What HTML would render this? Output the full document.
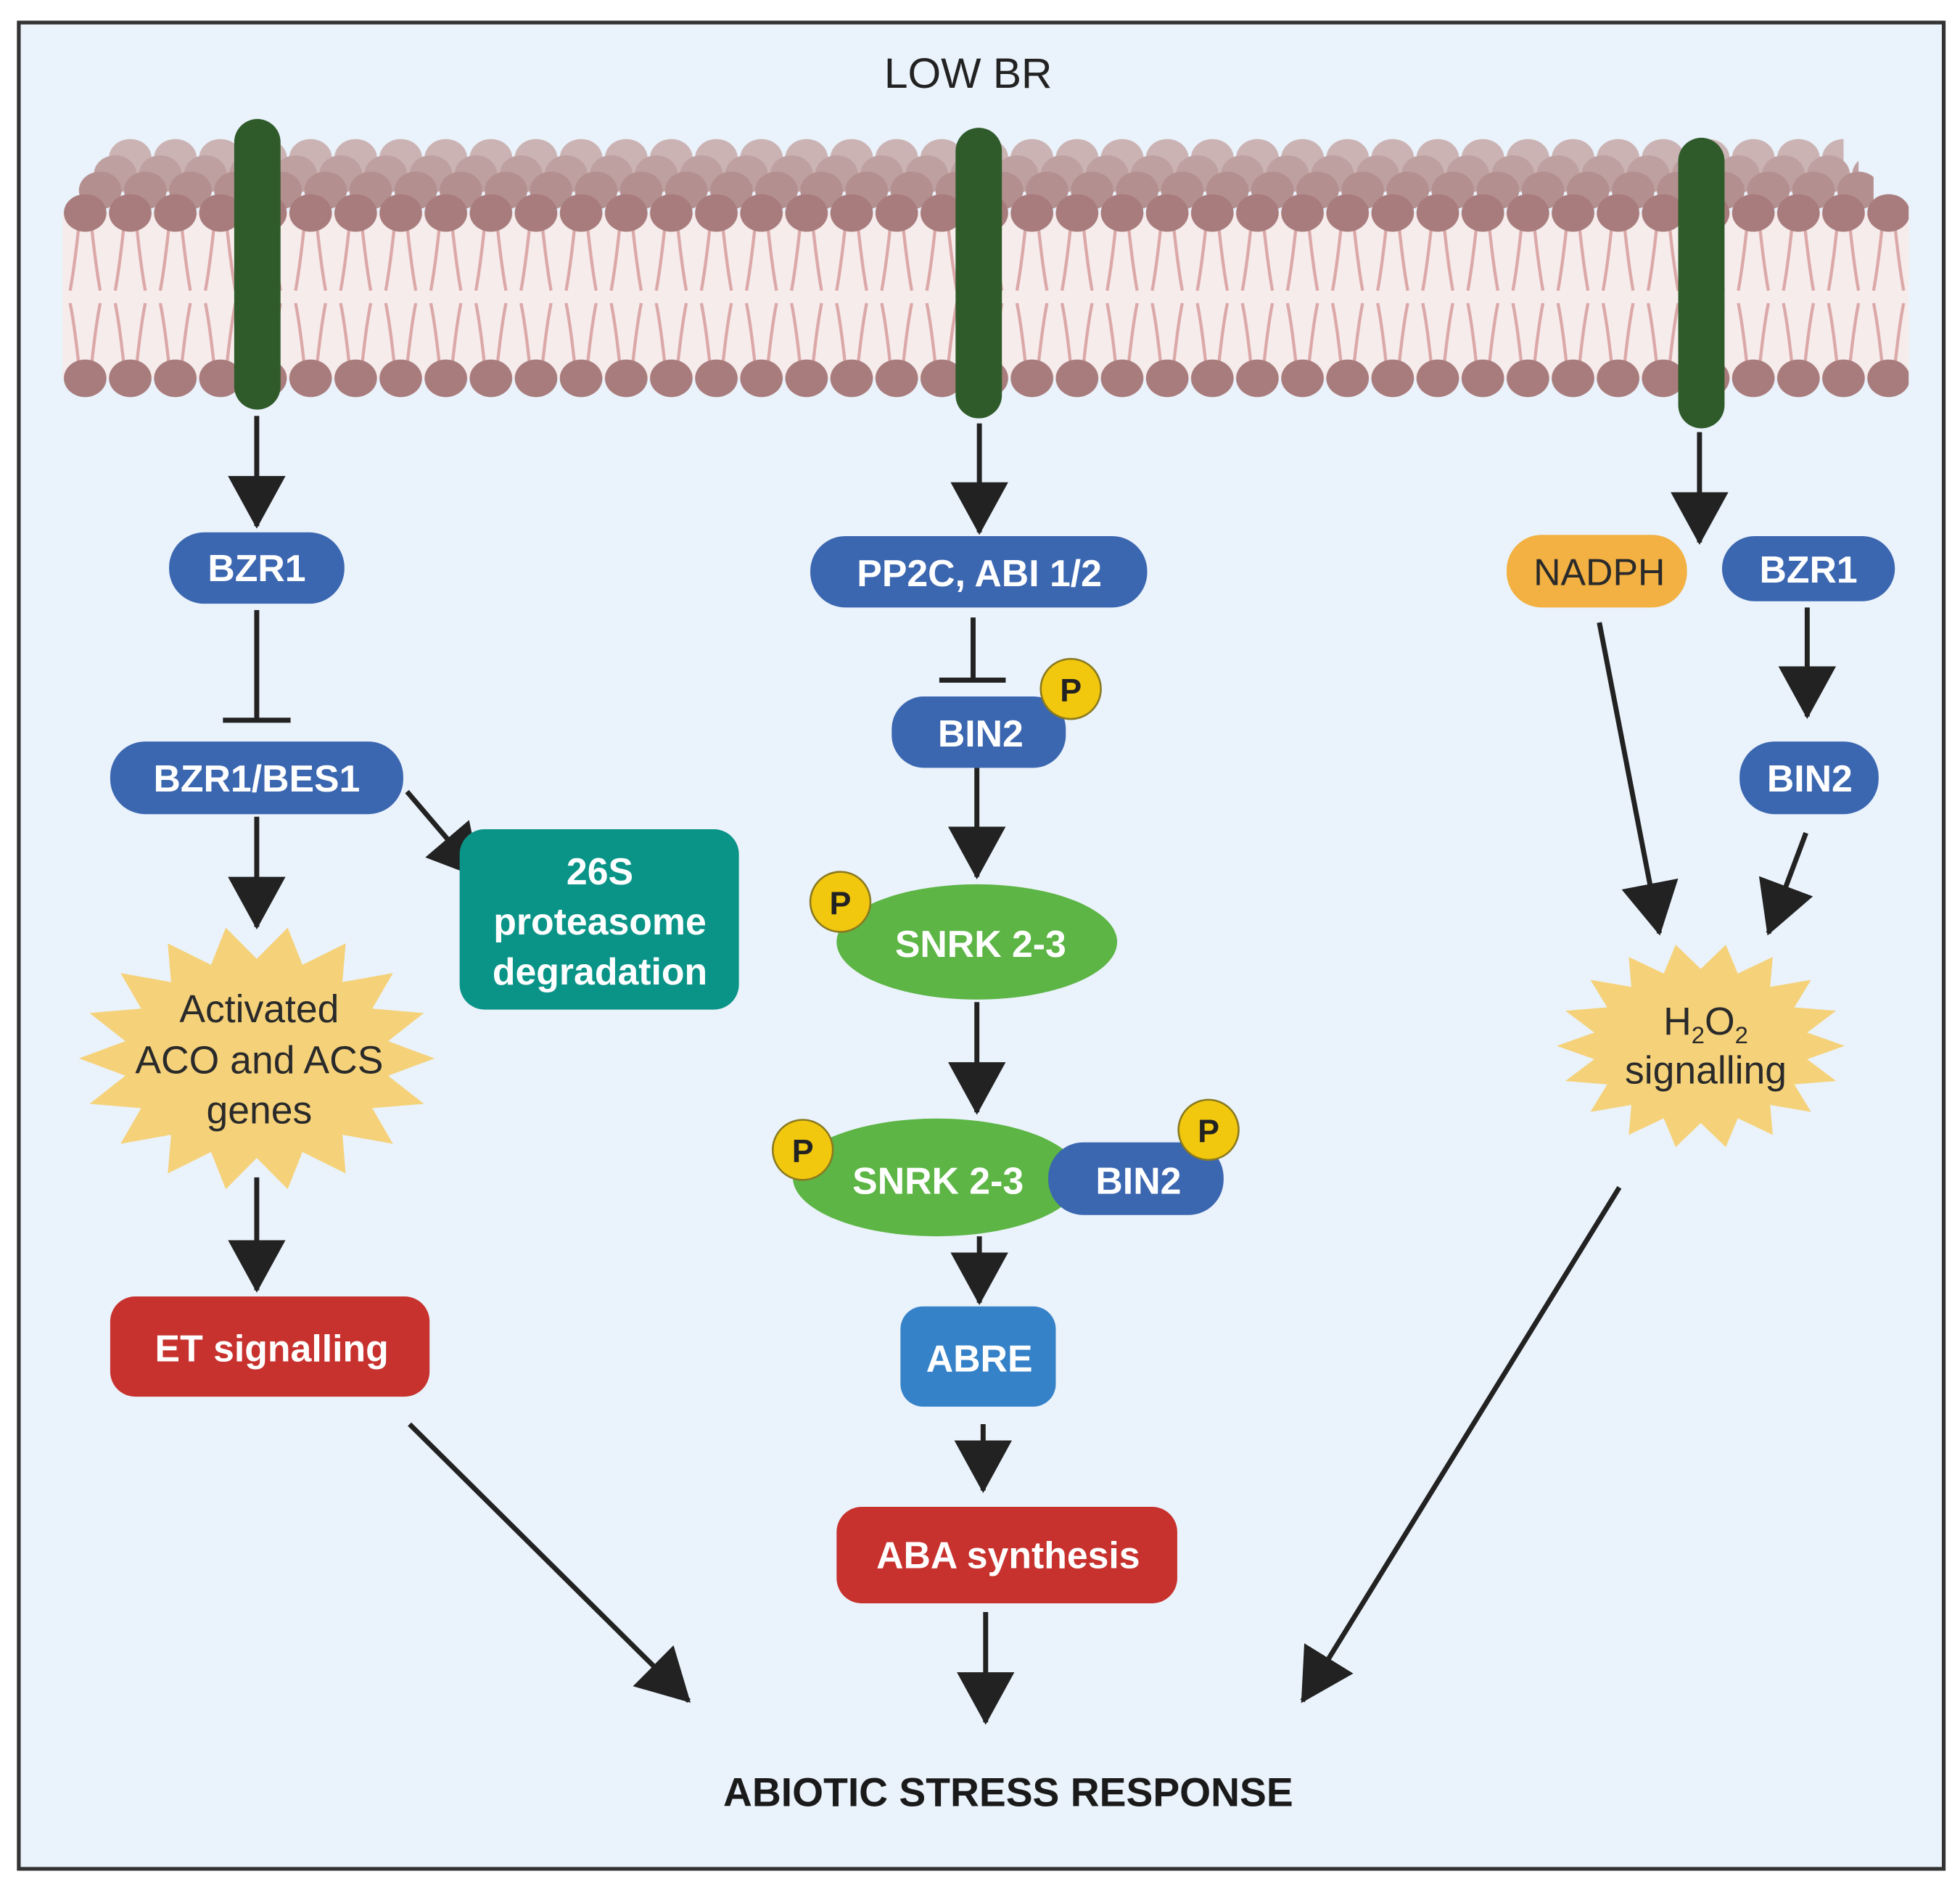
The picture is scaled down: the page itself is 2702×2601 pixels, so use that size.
<!DOCTYPE html>
<html><head><meta charset="utf-8"><style>
html,body{margin:0;padding:0;background:#fff}
svg{display:block}
text{font-family:"Liberation Sans",sans-serif}
.w{fill:#fff;font-weight:bold;font-size:30px;text-anchor:middle}
.d{fill:#2a2a2a;font-size:31px;text-anchor:middle}
.ln{stroke:#222;stroke-width:4;fill:none}
</style></head><body>
<svg width="2702" height="2601" viewBox="0 0 1565 1506.5" xmlns="http://www.w3.org/2000/svg">
<defs>
<marker id="ah" markerUnits="userSpaceOnUse" markerWidth="46" markerHeight="46" refX="40" refY="23" orient="auto">
<path d="M0,0 L42,23 L0,46 Z" fill="#222"/></marker>
<pattern id="h1" x="50" y="150" width="36" height="40" patternUnits="userSpaceOnUse"><ellipse cx="18" cy="20" rx="17" ry="15" fill="#a87c7c"/></pattern>
<pattern id="h1b" x="50" y="282" width="36" height="40" patternUnits="userSpaceOnUse"><ellipse cx="18" cy="20" rx="17" ry="15" fill="#a87c7c"/></pattern>
<pattern id="h2" x="62" y="132" width="36" height="40" patternUnits="userSpaceOnUse"><ellipse cx="18" cy="20" rx="17" ry="15" fill="#b48f8f"/></pattern>
<pattern id="h3" x="74" y="119" width="36" height="40" patternUnits="userSpaceOnUse"><ellipse cx="18" cy="20" rx="17" ry="15" fill="#bea0a0"/></pattern>
<pattern id="h4" x="86" y="106" width="36" height="40" patternUnits="userSpaceOnUse"><ellipse cx="18" cy="20" rx="17" ry="15" fill="#cbb3b3"/></pattern>
<pattern id="tl" x="50" y="170" width="36" height="132" patternUnits="userSpaceOnUse">
<path d="M14,0 Q10,40 6,62 M22,0 Q26,40 30,62 M14,132 Q10,92 6,72 M22,132 Q26,92 30,72" stroke="#dba8a8" stroke-width="2.5" fill="none"/></pattern>
<polygon id="star" points="1,0 .739,.130 .940,.342 .650,.375 .766,.643 .482,.575 .5,.866 .257,.705 .174,.985 0,.75 -.174,.985 -.257,.705 -.5,.866 -.482,.575 -.766,.643 -.650,.375 -.940,.342 -.739,.130 -1,0 -.739,-.130 -.940,-.342 -.650,-.375 -.766,-.643 -.482,-.575 -.5,-.866 -.257,-.705 -.174,-.985 0,-.75 .174,-.985 .257,-.705 .5,-.866 .482,-.575 .766,-.643 .650,-.375 .940,-.342 .739,-.130" fill="#f5d27a"/>
</defs>
<rect width="1565" height="1507" fill="#fff"/>
<rect x="15" y="18" width="1537" height="1474" fill="#eaf2fb" stroke="#333" stroke-width="3"/>
<text x="773" y="70" style="font-size:34px;fill:#222;text-anchor:middle">LOW BR</text>
<!-- membrane -->
<rect x="86" y="106" width="1386" height="40" fill="url(#h4)"/>
<rect x="74" y="119" width="1410" height="40" fill="url(#h3)"/>
<rect x="62" y="132" width="1434" height="40" fill="url(#h2)"/>
<rect x="50" y="170" width="1474" height="132" fill="#f7ecec"/>
<rect x="50" y="170" width="1474" height="132" fill="url(#tl)"/>
<rect x="50" y="150" width="1474" height="40" fill="url(#h1)"/>
<rect x="50" y="282" width="1474" height="40" fill="url(#h1b)"/>
<rect x="187" y="95" width="37" height="232" rx="18.5" fill="#2f5b2b"/>
<rect x="763" y="102" width="37" height="232" rx="18.5" fill="#2f5b2b"/>
<rect x="1340" y="110" width="37" height="232" rx="18.5" fill="#2f5b2b"/>
<!-- left column -->
<line class="ln" x1="205" y1="332" x2="205" y2="420" marker-end="url(#ah)"/>
<rect x="135" y="425" width="140" height="57" rx="28" fill="#3b66b0"/>
<text class="w" x="205" y="464">BZR1</text>
<line class="ln" x1="205" y1="487" x2="205" y2="575"/><line class="ln" x1="178" y1="575" x2="232" y2="575"/>
<rect x="88" y="592" width="234" height="58" rx="28" fill="#3b66b0"/>
<text class="w" x="205" y="632">BZR1/BES1</text>
<line class="ln" x1="325" y1="632" x2="383" y2="700" marker-end="url(#ah)"/>
<rect x="367" y="662" width="223" height="144" rx="20" fill="#0a9488"/>
<text class="w" x="479" y="706">26S</text><text class="w" x="479" y="746">proteasome</text><text class="w" x="479" y="786">degradation</text>
<line class="ln" x1="205" y1="652" x2="205" y2="740" marker-end="url(#ah)"/>
<use href="#star" transform="translate(205,845) scale(142,106)"/>
<text class="d" x="207" y="816">Activated</text><text class="d" x="207" y="857">ACO and ACS</text><text class="d" x="207" y="897">genes</text>
<line class="ln" x1="205" y1="940" x2="205" y2="1030" marker-end="url(#ah)"/>
<rect x="88" y="1035" width="255" height="80" rx="20" fill="#c7322e"/>
<text class="w" x="217" y="1087">ET signalling</text>
<line class="ln" x1="327" y1="1137" x2="550" y2="1358" marker-end="url(#ah)"/>
<!-- center column -->
<line class="ln" x1="782" y1="338" x2="782" y2="425" marker-end="url(#ah)"/>
<rect x="647" y="428" width="269" height="57" rx="28" fill="#3b66b0"/>
<text class="w" x="782" y="468">PP2C, ABI 1/2</text>
<line class="ln" x1="777" y1="493" x2="777" y2="543"/><line class="ln" x1="750" y1="543" x2="803" y2="543"/>
<rect x="712" y="556" width="139" height="57" rx="26" fill="#3b66b0"/>
<text class="w" x="783" y="596">BIN2</text>
<circle cx="855" cy="550" r="24" fill="#f2c80f" stroke="#8a7a20" stroke-width="1.5"/><text x="855" y="560" style="font-size:26px;font-weight:bold;text-anchor:middle;fill:#222">P</text>
<line class="ln" x1="780" y1="613" x2="780" y2="700" marker-end="url(#ah)"/>
<ellipse cx="780" cy="752" rx="112" ry="46" fill="#5cb544"/>
<text class="w" x="783" y="764">SNRK 2-3</text>
<circle cx="671" cy="720" r="24" fill="#f2c80f" stroke="#8a7a20" stroke-width="1.5"/><text x="671" y="730" style="font-size:26px;font-weight:bold;text-anchor:middle;fill:#222">P</text>
<line class="ln" x1="780" y1="800" x2="780" y2="888" marker-end="url(#ah)"/>
<ellipse cx="748" cy="940" rx="115" ry="47" fill="#5cb544"/>
<text class="w" x="749" y="953">SNRK 2-3</text>
<rect x="837" y="912" width="140" height="58" rx="28" fill="#3b66b0"/>
<text class="w" x="909" y="953">BIN2</text>
<circle cx="641" cy="918" r="24" fill="#f2c80f" stroke="#8a7a20" stroke-width="1.5"/><text x="641" y="928" style="font-size:26px;font-weight:bold;text-anchor:middle;fill:#222">P</text>
<circle cx="965" cy="902" r="24" fill="#f2c80f" stroke="#8a7a20" stroke-width="1.5"/><text x="965" y="912" style="font-size:26px;font-weight:bold;text-anchor:middle;fill:#222">P</text>
<line class="ln" x1="782" y1="987" x2="782" y2="1040" marker-end="url(#ah)"/>
<rect x="719" y="1043" width="124" height="80" rx="18" fill="#3582c8"/>
<text class="w" x="782" y="1095">ABRE</text>
<line class="ln" x1="785" y1="1137" x2="785" y2="1190" marker-end="url(#ah)"/>
<rect x="668" y="1203" width="272" height="77" rx="20" fill="#c7322e"/>
<text class="w" x="805" y="1252">ABA synthesis</text>
<line class="ln" x1="787" y1="1287" x2="787" y2="1375" marker-end="url(#ah)"/>
<!-- right column -->
<line class="ln" x1="1357" y1="345" x2="1357" y2="433" marker-end="url(#ah)"/>
<rect x="1203" y="427" width="144" height="58" rx="28" fill="#f2b142"/>
<text x="1277" y="467" style="font-size:30px;fill:#2a2a2a;text-anchor:middle">NADPH</text>
<rect x="1375" y="428" width="138" height="52" rx="26" fill="#3b66b0"/>
<text class="w" x="1444" y="465">BZR1</text>
<line class="ln" x1="1443" y1="485" x2="1443" y2="572" marker-end="url(#ah)"/>
<rect x="1389" y="592" width="111" height="58" rx="28" fill="#3b66b0"/>
<text class="w" x="1445" y="632">BIN2</text>
<line class="ln" x1="1277" y1="497" x2="1325" y2="745" marker-end="url(#ah)"/>
<line class="ln" x1="1442" y1="665" x2="1412" y2="745" marker-end="url(#ah)"/>
<use href="#star" transform="translate(1358,835) scale(115,82)"/>
<text class="d" x="1362" y="826">H<tspan style="font-size:19px" dy="7">2</tspan><tspan dy="-7">O</tspan><tspan style="font-size:19px" dy="7">2</tspan></text>
<text class="d" x="1362" y="865">signalling</text>
<line class="ln" x1="1293" y1="948" x2="1040" y2="1358" marker-end="url(#ah)"/>
<text x="805" y="1442" style="font-size:32px;font-weight:bold;fill:#1a1a1a;text-anchor:middle">ABIOTIC STRESS RESPONSE</text>
</svg>
</body></html>
